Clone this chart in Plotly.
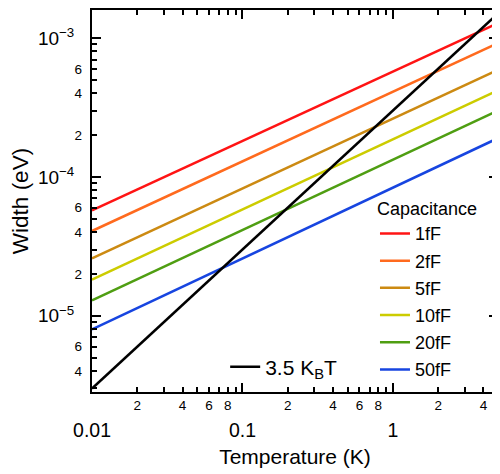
import numpy as np
import plotly.graph_objects as go

# ---- data ----
T_ends = [0.01, 5.0]
capacitances = ["1fF", "2fF", "5fF", "10fF", "20fF", "50fF"]
width_at_Tmin = [5.74e-5, 4.08e-5, 2.59e-5, 1.82e-5, 1.29e-5, 8.0e-6]
width_at_Tmax = [1.28e-3, 9.2e-4, 5.9e-4, 4.2e-4, 3.0e-4, 1.9e-4]
kbt_name = "3.5 K<sub>B</sub>T"
kbt_width = [3.0e-6, 1.5e-3]

x_major_vals = [0.01, 0.1, 1]
x_major_text = ["0.01", "0.1", "1"]
x_minor_vals = [0.02, 0.04, 0.06, 0.08, 0.2, 0.4, 0.6, 0.8, 2, 4]
x_minor_text = ["2", "4", "6", "8", "2", "4", "6", "8", "2", "4"]
y_major_vals = [1e-5, 1e-4, 1e-3]
y_major_text = ["10<sup>−5</sup>", "10<sup>−4</sup>", "10<sup>−3</sup>"]
y_minor_vals = [4e-6, 6e-6, 2e-5, 4e-5, 6e-5, 2e-4, 4e-4, 6e-4]
y_minor_text = ["4", "6", "2", "4", "6", "2", "4", "6"]

colors = ["#ff1414", "#ff6a1e", "#cc8a12", "#cccc00", "#4f9e12", "#1745e0"]

FONT = "Liberation Sans, Arial, Helvetica, sans-serif"

x_range = [np.log10(0.01), np.log10(5.0)]
y_range = [np.log10(2.83e-6), np.log10(1.59e-3)]

all_minor_x = [m * 10.0 ** d for d in range(-2, 1) for m in range(2, 10)]
all_minor_y = [m * 10.0 ** d for d in range(-6, -2) for m in range(2, 10)]

fig = go.Figure()
for name, lo, hi, c in zip(capacitances, width_at_Tmin, width_at_Tmax, colors):
    fig.add_trace(go.Scatter(x=T_ends, y=[lo, hi], mode="lines", name=name,
                             line=dict(color=c, width=2.5), legendgroup=name,
                             legend="legend", hoverinfo="skip"))
fig.add_trace(go.Scatter(x=T_ends, y=kbt_width, mode="lines", name=kbt_name,
                         line=dict(color="black", width=2.5), legend="legend2",
                         hoverinfo="skip"))
# invisible helpers so the overlay axes (minor tick labels) get drawn
fig.add_trace(go.Scatter(x=T_ends, y=kbt_width, xaxis="x2", yaxis="y",
                         mode="lines", line=dict(width=0), opacity=0,
                         showlegend=False, hoverinfo="skip"))
fig.add_trace(go.Scatter(x=T_ends, y=kbt_width, xaxis="x", yaxis="y2",
                         mode="lines", line=dict(width=0), opacity=0,
                         showlegend=False, hoverinfo="skip"))

axis_common = dict(type="log", showgrid=False, zeroline=False, automargin=False)
tick_common = dict(ticks="inside", ticklen=9, tickwidth=1.5, tickcolor="black",
                   showline=True, linewidth=2, linecolor="black", mirror="ticks")

# the page body adds an 8px offset, so the figure is 8px smaller than the window
fig.update_layout(
    width=492, height=466,
    margin=dict(l=84, r=2, t=2, b=82),
    paper_bgcolor="white", plot_bgcolor="white",
    font=dict(family=FONT, color="black"),
    showlegend=True,
    xaxis=dict(**axis_common, **tick_common, range=x_range, tickmode="array",
               tickvals=x_major_vals, ticktext=x_major_text,
               minor=dict(tickmode="array", tickvals=all_minor_x, ticks="inside",
                          ticklen=5, tickwidth=1.5, tickcolor="black"),
               tickfont=dict(size=19.5), ticklabelstandoff=20,
               title=dict(text="Temperature (K)", font=dict(size=21), standoff=9)),
    xaxis2=dict(**axis_common, range=x_range, overlaying="x", anchor="y",
                tickmode="array", tickvals=x_minor_vals, ticktext=x_minor_text,
                ticks="", showline=False, tickfont=dict(size=13.5),
                ticklabelstandoff=3),
    yaxis=dict(**axis_common, **tick_common, range=y_range, tickmode="array",
               tickvals=y_major_vals, ticktext=y_major_text,
               minor=dict(tickmode="array", tickvals=all_minor_y, ticks="inside",
                          ticklen=5, tickwidth=1.5, tickcolor="black"),
               tickfont=dict(size=19), ticklabelstandoff=12,
               title=dict(text="Width (eV)", font=dict(size=22.5), standoff=5)),
    yaxis2=dict(**axis_common, range=y_range, overlaying="y", anchor="x",
                side="left", tickmode="array", tickvals=y_minor_vals,
                ticktext=y_minor_text, ticks="", showline=False,
                tickfont=dict(size=13.5), ticklabelstandoff=9),
    legend=dict(x=0.697, y=0.524, xanchor="left", yanchor="top",
                bgcolor="rgba(0,0,0,0)", font=dict(size=18),
                title=dict(text="Capacitance", font=dict(size=18)),
                tracegroupgap=0.8),
    legend2=dict(x=0.328, y=0.065, xanchor="left", yanchor="middle",
                 bgcolor="rgba(0,0,0,0)", font=dict(size=21)),
)

fig.write_html("out.html")
